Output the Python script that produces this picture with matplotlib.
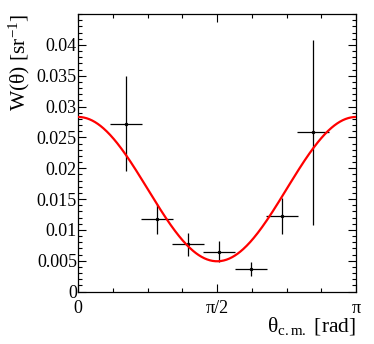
import numpy as np
import matplotlib
matplotlib.use("Agg")
import matplotlib.pyplot as plt
from matplotlib.ticker import MultipleLocator, FixedLocator

plt.rcParams["font.family"] = ["Liberation Serif", "DejaVu Serif"]
plt.rcParams["mathtext.fontset"] = "custom"
plt.rcParams["mathtext.rm"] = "Liberation Serif"
plt.rcParams["mathtext.it"] = "Liberation Serif"

# measured points (theta in units of pi)
theta_pi = [0.1707, 0.2827, 0.3961, 0.5077, 0.6219, 0.7346, 0.8463]
theta_err_pi = [0.057, 0.057, 0.057, 0.057, 0.057, 0.057, 0.057]
w_val = [0.0272, 0.01175, 0.00765, 0.00645, 0.00365, 0.01224, 0.02585]
w_err = [0.0077, 0.0025, 0.0019, 0.0017, 0.0012, 0.0029, 0.0150]

# fit: W = a + b cos^2(theta)
fit_a = 0.0049
fit_b = 0.0234

theta = np.array(theta_pi) * np.pi
theta_err = np.array(theta_err_pi) * np.pi

fig = plt.figure(figsize=(3.74, 3.44), dpi=100)
ax = fig.add_axes([78.3 / 374, 1 - 291.5 / 344, (356 - 78.3) / 374, (291.5 - 14) / 344])

ax.errorbar(theta, w_val, xerr=theta_err, yerr=w_err, fmt="o", markersize=1.5,
            color="black", ecolor="black", elinewidth=0.9, capsize=0, zorder=2)

tt = np.linspace(0, np.pi, 400)
ax.plot(tt, fit_a + fit_b * np.cos(tt) ** 2, color="#ff0000", linewidth=1.6, zorder=3)

ax.set_xlim(0, np.pi)
ax.set_ylim(0, 0.045)

ax.xaxis.set_major_locator(FixedLocator([0, np.pi / 2, np.pi]))
ax.xaxis.set_minor_locator(MultipleLocator(np.pi / 8))
ax.set_xticklabels(["0", "π/2", "π"])
ax.yaxis.set_minor_locator(MultipleLocator(0.001))
ax.set_yticks([0, 0.005, 0.01, 0.015, 0.02, 0.025, 0.03, 0.035, 0.04])
ax.set_yticklabels(["0", "0.005", "0.01", "0.015", "0.02", "0.025", "0.03", "0.035", "0.04"])

ax.tick_params(which="both", direction="in", top=True, right=True, labelsize=13, width=0.8)
ax.tick_params(axis="y", which="major", length=6, pad=1)
ax.tick_params(axis="y", which="minor", length=3)
ax.tick_params(axis="x", which="major", length=6, pad=6)
ax.tick_params(axis="x", which="minor", length=3)
for s in ax.spines.values():
    s.set_linewidth(0.9)

ax.set_xlabel(r"θ$_{\mathrm{c.m.}}$ [rad]", fontsize=15.5, loc="right", labelpad=-1)
ax.set_ylabel(r"W(θ) [sr$^{\mathrm{-1}}$]", fontsize=15.5, loc="top", labelpad=3)

fig.savefig("out.png", dpi=100)
